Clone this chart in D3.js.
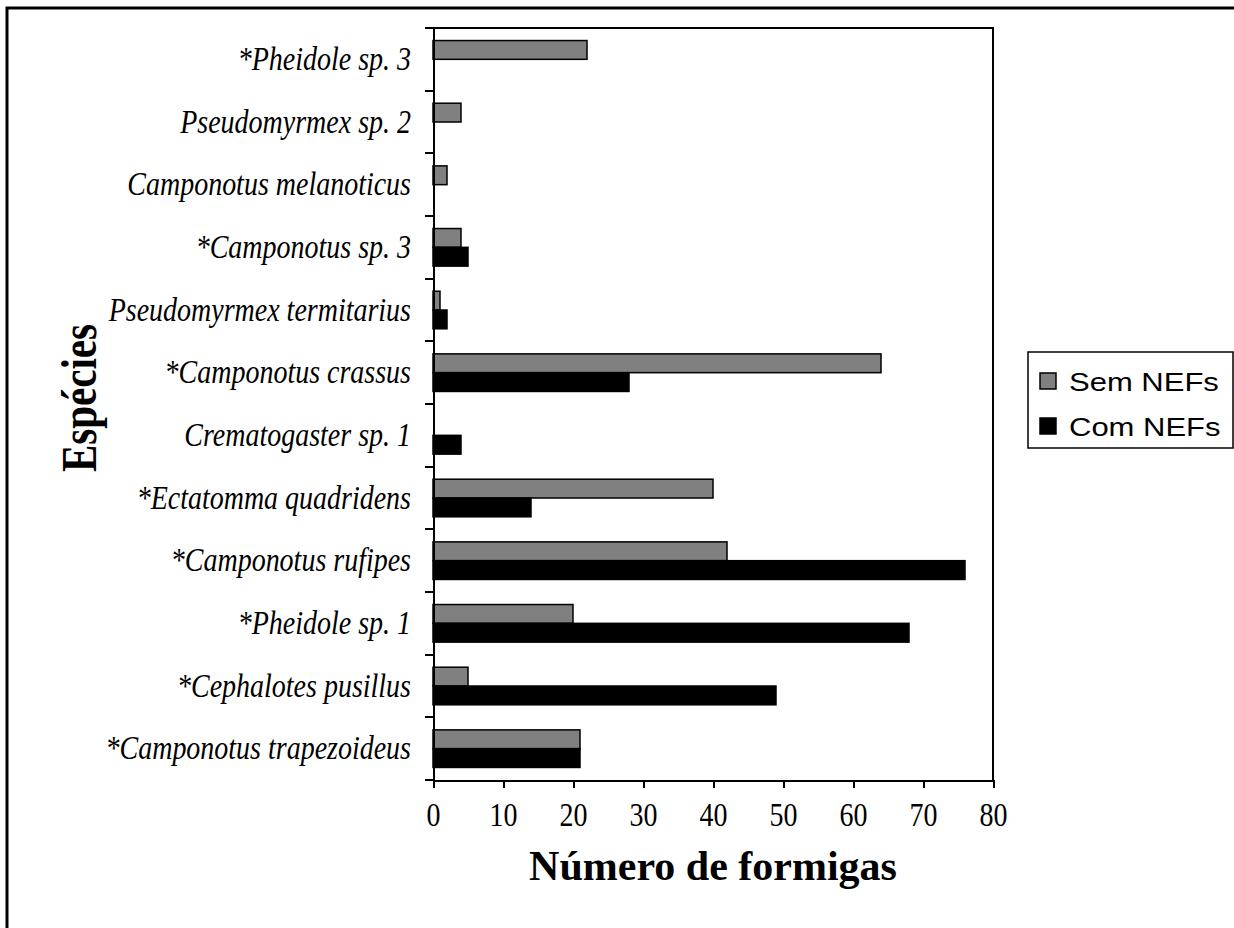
<!DOCTYPE html>
<meta charset="utf-8">
<style>
body { margin: 0; background: #fff; }
svg text { fill: #000; }
.axis path, .axis line { fill: none; stroke: #000; stroke-width: 2px; shape-rendering: crispEdges; }
</style>
<body>
<div id="chart"></div>
<script src="https://d3js.org/d3.v7.min.js"></script>
<script>

// species, top to bottom
var species = [
  "*Pheidole sp. 3",
  "Pseudomyrmex sp. 2",
  "Camponotus melanoticus",
  "*Camponotus sp. 3",
  "Pseudomyrmex termitarius",
  "*Camponotus crassus",
  "Crematogaster sp. 1",
  "*Ectatomma quadridens",
  "*Camponotus rufipes",
  "*Pheidole sp. 1",
  "*Cephalotes pusillus",
  "*Camponotus trapezoideus"
];

var series = ["Sem NEFs", "Com NEFs"];
var semNEFs = [22, 4, 2, 4, 1, 64, 0, 40, 42, 20, 5, 21];
var comNEFs = [0, 0, 0, 5, 2, 28, 4, 14, 76, 68, 49, 21];
var xTicks = [0, 10, 20, 30, 40, 50, 60, 70, 80];
var colors = ["#808080", "#000000"];

var serif = '"Liberation Serif", "Times New Roman", serif';
var sans = '"Liberation Sans", Arial, sans-serif';

var width = 1234, height = 928;

var svg = d3.select("#chart").append("svg")
    .attr("width", width)
    .attr("height", height);

// outer frame (right and bottom edges fall outside the picture)
svg.append("rect")
    .attr("x", 7).attr("y", 8)
    .attr("width", 1300).attr("height", 1000)
    .attr("fill", "none").attr("stroke", "#000").attr("stroke-width", 3);

var plot = {left: 433, right: 993, top: 28, bottom: 780};

var x = d3.scaleLinear()
    .domain([0, 80])
    .range([plot.left, plot.right]);

var y = d3.scaleBand()
    .domain(species)
    .range([plot.top, plot.bottom]);

var inner = d3.scaleBand()
    .domain(series)
    .range([0, y.bandwidth() * 0.6]);

var groupOffset = y.bandwidth() * 0.2;

var rows = species.map(function(s, i) {
  return {name: s, values: [semNEFs[i], comNEFs[i]]};
});

// plot area border (top and right)
svg.append("path")
    .attr("d", "M" + plot.left + "," + plot.top + "H" + plot.right + "V" + plot.bottom)
    .attr("fill", "none").attr("stroke", "#000").attr("stroke-width", 2)
    .attr("shape-rendering", "crispEdges");

// bars
var groups = svg.selectAll(".row")
    .data(rows)
    .enter().append("g")
    .attr("class", "row")
    .attr("transform", function(d) { return "translate(0," + (y(d.name) + groupOffset) + ")"; });

groups.selectAll("rect")
    .data(function(d) { return d.values.map(function(v, j) { return {key: series[j], value: v, j: j}; }); })
    .enter().filter(function(d) { return d.value > 0; })
    .append("rect")
    .attr("x", x(0))
    .attr("y", function(d) { return inner(d.key); })
    .attr("width", function(d) { return x(d.value) - x(0); })
    .attr("height", inner.bandwidth())
    .attr("fill", function(d) { return colors[d.j]; })
    .attr("stroke", "#000")
    .attr("stroke-width", 1.5);

// y axis: line plus ticks between categories
svg.append("g")
    .attr("class", "axis")
    .attr("transform", "translate(" + plot.left + ",0)")
    .call(d3.axisLeft(y).tickSize(0).tickFormat(""))
  .selectAll(".tick").remove();

svg.append("g").attr("class", "axis")
  .selectAll("line")
  .data(d3.range(species.length + 1))
  .enter().append("line")
    .attr("x1", plot.left - 8).attr("x2", plot.left)
    .attr("y1", function(i) { return plot.top + i * y.step(); })
    .attr("y2", function(i) { return plot.top + i * y.step(); });

// category labels, slightly stretched vertically like the original
svg.selectAll(".cat-label")
    .data(species)
    .enter().append("text")
    .attr("class", "cat-label")
    .attr("transform", function(d) { return "translate(411," + (y(d) + y.bandwidth() / 2) + ") scale(1,1.2)"; })
    .attr("dy", "0.32em")
    .attr("text-anchor", "end")
    .style("font-family", serif)
    .style("font-style", "italic")
    .style("font-size", "28px")
    .text(function(d) { return d; });

// x axis
var xAxis = svg.append("g")
    .attr("class", "axis")
    .attr("transform", "translate(0," + plot.bottom + ")")
    .call(d3.axisBottom(x).tickValues(xTicks).tickSize(8).tickSizeOuter(0));

xAxis.selectAll("text")
    .attr("y", 0)
    .attr("dy", null)
    .attr("transform", "translate(0,46) scale(1,1.2)")
    .style("font-family", serif)
    .style("font-size", "28px");

// titles
svg.append("text")
    .attr("x", (plot.left + plot.right) / 2)
    .attr("y", 880)
    .attr("text-anchor", "middle")
    .style("font-family", serif)
    .style("font-weight", "bold")
    .style("font-size", "42px")
    .text("Número de formigas");

svg.append("text")
    .attr("transform", "translate(96,398) rotate(-90) scale(1,1.25)")
    .attr("text-anchor", "middle")
    .style("font-family", serif)
    .style("font-weight", "bold")
    .style("font-size", "41px")
    .text("Espécies");

// legend
var legend = svg.append("g").attr("class", "legend");

legend.append("rect")
    .attr("x", 1028).attr("y", 352)
    .attr("width", 205).attr("height", 96)
    .attr("fill", "#fff").attr("stroke", "#000").attr("stroke-width", 1.5);

var items = legend.selectAll(".item")
    .data(series)
    .enter().append("g")
    .attr("class", "item")
    .attr("transform", function(d, i) { return "translate(1040," + (381 + i * 45) + ")"; });

items.append("rect")
    .attr("x", 0).attr("y", -8)
    .attr("width", 16).attr("height", 16)
    .attr("fill", function(d, i) { return colors[i]; })
    .attr("stroke", "#000").attr("stroke-width", 1.5);

items.append("text")
    .attr("transform", "translate(29,0) scale(1,0.86)")
    .attr("dy", "0.36em")
    .style("font-family", sans)
    .style("font-size", "31px")
    .text(function(d) { return d; });

</script>
